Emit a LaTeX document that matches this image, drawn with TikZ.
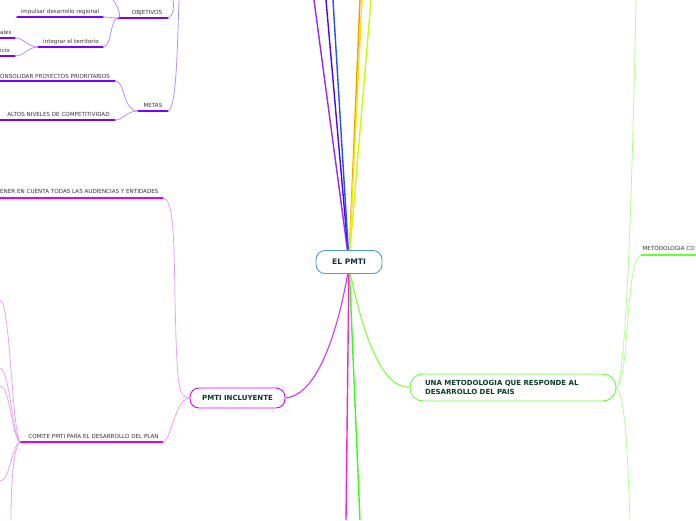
\documentclass[tikz,border=0pt]{standalone}
\usepackage{fontspec}
\setmainfont{DejaVu Sans}
\pgfdeclarelayer{bg}
\pgfsetlayers{bg,main}
\definecolor{purU}{HTML}{7A00FF}
\definecolor{purC}{HTML}{B68CFF}
\definecolor{magU}{HTML}{DD00FF}
\definecolor{magC}{HTML}{E8A0FF}
\definecolor{grnU}{HTML}{66FF33}
\definecolor{grnC}{HTML}{B0FF90}
\definecolor{txt}{HTML}{333333}
\definecolor{navy}{HTML}{1B2A49}
\definecolor{dgreen}{HTML}{0A3D2A}
\definecolor{rootblue}{HTML}{4A9DE0}
\begin{document}
\begin{tikzpicture}[x=1pt,y=-1pt,
  lab/.style={font=\fontsize{5.6}{6.5}\selectfont, text=txt, inner sep=0pt, anchor=base},
  ul/.style={line width=1.4pt, line cap=round},
  cv/.style={line width=0.8pt},
  rootbox/.style={draw=rootblue, line width=0.9pt, rounded corners=9pt, fill=white,
     minimum width=66pt, minimum height=23pt, inner sep=0pt,
     font=\fontsize{7.6}{9}\selectfont\bfseries, text=navy},
  mainbox/.style={line width=0.9pt, fill=white, inner sep=0pt,
     font=\fontsize{7}{9.2}\selectfont\bfseries, text=dgreen}]
\useasboundingbox (0,0) rectangle (696,520);
\clip (0,0) rectangle (696,520);

% main nodes
\node[rootbox] (root) at (349,262) {EL PMTI};
\node[mainbox, draw=magU, rounded corners=9pt, minimum width=95pt, minimum height=20pt] (incl) at (237.5,398) {PMTI INCLUYENTE};
\node[mainbox, draw=grnU, rounded corners=13pt, minimum height=27pt, text width=176pt, inner xsep=15pt, align=left] (meto) at (513,387.5) {UNA METODOLOGIA QUE RESPONDE AL\\DESARROLLO DEL PAIS};

% free ends
\coordinate (t1) at (314,0);
\coordinate (t2) at (326,0);
\coordinate (t3) at (333,0);
\coordinate (t4) at (360,0);
\coordinate (t5) at (362,0);
\coordinate (t6) at (371,0);
\coordinate (b1) at (346,520);
\coordinate (b2) at (360,520);

% purple group
\coordinate (objL) at (118,18); \coordinate (objR) at (168,18);
\node[lab] (obj) at (147,14) {OBJETIVOS};
\coordinate (impL) at (17,17); \coordinate (impR) at (103,17);
\node[lab] (imp) at (60,13) {impulsar desarrollo regional};
\coordinate (intL) at (38,47); \coordinate (intR) at (103,47);
\node[lab] (int) at (71,43) {integrar el territorio};
\coordinate (aleL) at (0,38); \coordinate (aleR) at (15,38);
\node[lab, anchor=base west] (ale) at (0,34) {ales};
\coordinate (icL) at (0,56); \coordinate (icR) at (15,56);
\node[lab, anchor=base west] (ic) at (0,52) {icio};
\coordinate (metL) at (138,111); \coordinate (metR) at (168,111);
\node[lab] (met) at (153,107) {METAS};
\coordinate (conL) at (0,81); \coordinate (conR) at (115,81);
\node[lab, anchor=base west] (con) at (0,78) {ONSOLIDAR PROYECTOS PRIORITARIOS};
\coordinate (altL) at (0,120); \coordinate (altR) at (115,120);
\node[lab] (alt) at (58.5,116) {ALTOS NIVELES DE COMPETITIVIDAD};
\coordinate (p1) at (173,0);
\coordinate (p2) at (179,0);
\coordinate (p3) at (113,0);

% magenta group
\coordinate (tenL) at (0,198); \coordinate (tenR) at (163,198);
\node[lab, anchor=base west] (ten) at (0,193) {ENER EN CUENTA TODAS LAS AUDIENCIAS Y ENTIDADES};
\coordinate (comL) at (20,442); \coordinate (comR) at (163,442);
\node[lab] (com) at (93.5,438) {COMITE PMTI PARA EL DESARROLLO DEL PLAN};
\coordinate (m1) at (0,300);
\coordinate (m2) at (0,368);
\coordinate (m3) at (0,386);
\coordinate (m4) at (0,481);
\coordinate (m5) at (11,520);

% green group
\coordinate (mcL) at (641,255); \coordinate (mcR) at (696,255);
\node[lab, anchor=base east] (mc) at (695,250) {METODOLOGIA CO};
\coordinate (g1) at (636,0);
\coordinate (g2) at (630,520);

\begin{pgfonlayer}{bg}
 % central spokes
 \draw[line width=1.4pt, color={rgb,255:red,150;green,40;blue,255}] (root.center) -- (t1);
 \draw[line width=1.4pt, color={rgb,255:red,80;green,0;blue,255}] (root.center) -- (t2);
 \draw[line width=1.4pt, color={rgb,255:red,30;green,80;blue,255}] (root.center) -- (t3);
 \draw[line width=1.4pt, color={rgb,255:red,255;green,150;blue,0}] (root.center) -- (t4);
 \draw[line width=1.4pt, color={rgb,255:red,255;green,230;blue,0}] (root.center) -- (t5);
 \draw[line width=1.4pt, color={rgb,255:red,200;green,255;blue,0}] (root.center) -- (t6);
 \draw[line width=1.4pt, color={rgb,255:red,255;green,30;blue,220}] (root.center) -- (b1);
 \draw[line width=1.4pt, color={rgb,255:red,50;green,255;blue,20}] (root.center) -- (b2);
 \draw[line width=1.1pt, color={rgb,255:red,210;green,50;blue,255}] (348,272) .. controls (338,330) and (318,395) .. (incl.east);
 \draw[line width=1.1pt, color={rgb,255:red,130;green,255;blue,60}] (350,272) .. controls (362,330) and (380,387) .. (meto.west);

 % purple group
 \draw[ul, purU] (objL) -- (objR);
 \draw[ul, purU] (impL) -- (impR);
 \draw[ul, purU] (intL) -- (intR);
 \draw[ul, purU] (aleL) -- (aleR);
 \draw[ul, purU] (icL) -- (icR);
 \draw[ul, purU] (metL) -- (metR);
 \draw[ul, purU] (conL) -- (conR);
 \draw[ul, purU] (altL) -- (altR);
 \draw[cv, purC] (objR) .. controls (174,16) and (174,6) .. (p1);
 \draw[cv, purC] (metR) .. controls (176,108) and (177,60) .. (p2);
 \draw[cv, purC] (objL) .. controls (122,18) and (118,6) .. (p3);
 \draw[cv, purC] (objL) .. controls (112,18) and (108,17) .. (impR);
 \draw[cv, purC] (objL) .. controls (110,18) and (112,47) .. (intR);
 \draw[cv, purC] (intL) .. controls (28,47) and (24,38) .. (aleR);
 \draw[cv, purC] (intL) .. controls (28,47) and (24,56) .. (icR);
 \draw[cv, purC] (metL) .. controls (122,111) and (126,81) .. (conR);
 \draw[cv, purC] (metL) .. controls (126,111) and (124,120) .. (altR);

 % magenta group
 \draw[ul, magU] (tenL) -- (tenR);
 \draw[ul, magU] (comL) -- (comR);
 \draw[cv, magC] (tenR) .. controls (172,200) and (174,220) .. (175,300) .. controls (177,385) and (178,398) .. (incl.west);
 \draw[cv, magC] (comR) .. controls (172,440) and (174,400) .. (incl.west);
 \draw[cv, magC] (comL) .. controls (12,430) and (10,300) .. (m1);
 \draw[cv, magC] (comL) .. controls (12,435) and (10,370) .. (m2);
 \draw[cv, magC] (comL) .. controls (12,438) and (10,386) .. (m3);
 \draw[cv, magC] (comL) .. controls (12,444) and (10,481) .. (m4);
 \draw[cv, magC] (comL) .. controls (14,446) and (11,480) .. (m5);

 % green group
 \draw[ul, grnU] (mcL) -- (mcR);
 \draw[cv, grnC] (meto.east) .. controls (628,380) and (634,100) .. (g1);
 \draw[cv, grnC] (meto.east) .. controls (630,380) and (625,260) .. (mcL);
 \draw[cv, grnC] (meto.east) .. controls (626,395) and (628,470) .. (g2);
\end{pgfonlayer}
\end{tikzpicture}
\end{document}
